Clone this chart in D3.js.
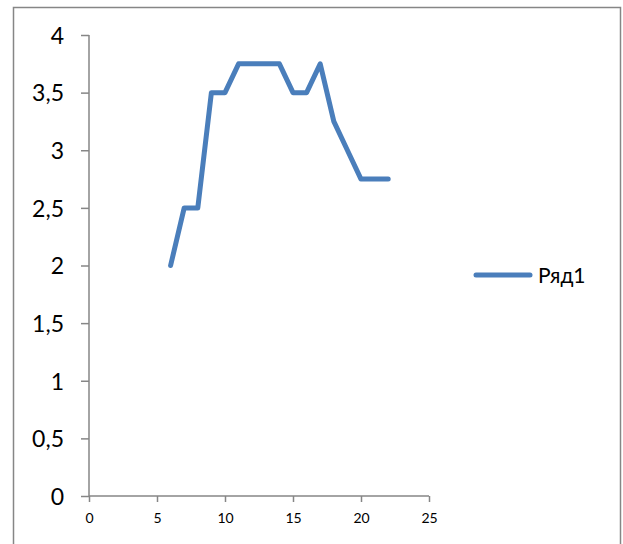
<!DOCTYPE html>
<html><head><meta charset="utf-8">
<script src="https://cdn.jsdelivr.net/npm/d3@7"></script>
<style>body{margin:0;background:#fff}svg{display:block}</style>
</head><body>
<script>
const xValues = [6,7,8,9,10,11,12,13,14,15,16,17,18,19,20,21,22];
const yValues = [2,2.5,2.5,3.5,3.5,3.75,3.75,3.75,3.75,3.5,3.5,3.75,3.25,3,2.75,2.75,2.75];
const seriesName = "Ряд1";
const xTicks = [0,5,10,15,20,25];
const yTicks = [0,0.5,1,1.5,2,2.5,3,3.5,4];

const W = 623, H = 544;
const svg = d3.select("body").append("svg").attr("width", W).attr("height", H);
svg.append("rect").attr("x", 13.5).attr("y", 7.5).attr("width", 607).attr("height", 560)
  .attr("fill", "#fff").attr("stroke", "#868686").attr("stroke-width", 1.5);

const x = d3.scaleLinear().domain([0, 25]).range([89, 429]);
const y = d3.scaleLinear().domain([0, 4]).range([496, 35]);
const fmt = d => String(d).replace(".", ",");
const font = "Lato, 'Open Sans', sans-serif";

const gy = svg.append("g").attr("transform", "translate(89,0)")
  .call(d3.axisLeft(y).tickValues(yTicks).tickSize(8).tickPadding(17).tickFormat(fmt));
gy.selectAll("text").attr("font-size", 23).attr("font-family", font).attr("fill", "#000").attr("dy", "0.36em");
const gx = svg.append("g").attr("transform", "translate(0,496)")
  .call(d3.axisBottom(x).tickValues(xTicks).tickSize(6).tickPadding(11).tickFormat(fmt));
gx.selectAll("text").attr("font-size", 14).attr("font-family", font).attr("fill", "#000");
svg.selectAll(".domain, .tick line").attr("stroke", "#868686").attr("stroke-width", 1.5);
gy.select(".domain").attr("d", "M0,35V496");
gx.select(".domain").attr("d", "M89,0H429");

const line = d3.line().x((d, i) => x(xValues[i])).y(d => y(d));
svg.append("path").datum(yValues).attr("d", line).attr("fill", "none")
  .attr("stroke", "#4a7ebb").attr("stroke-width", 5).attr("stroke-linecap", "round").attr("stroke-linejoin", "round");

const lg = svg.append("g");
lg.append("line").attr("x1", 476).attr("x2", 530).attr("y1", 275).attr("y2", 275)
  .attr("stroke", "#4a7ebb").attr("stroke-width", 5).attr("stroke-linecap", "round");
lg.append("text").attr("x", 538).attr("y", 283).attr("font-size", 21).attr("font-family", font).text(seriesName);
</script>
</body></html>
